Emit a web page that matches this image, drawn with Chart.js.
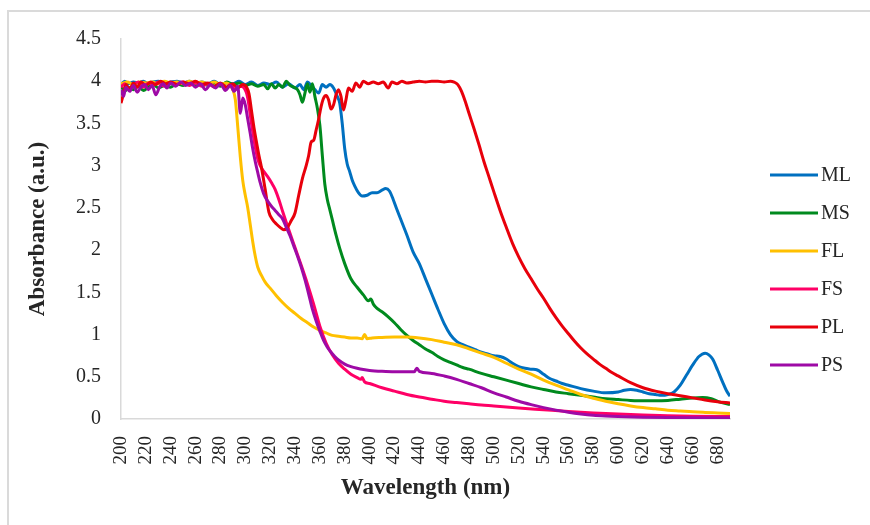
<!DOCTYPE html>
<html>
<head>
<meta charset="utf-8">
<script src="https://cdn.jsdelivr.net/npm/chart.js@4.4.1/dist/chart.umd.min.js"></script>
<style>
  html, body { margin: 0; padding: 0; background: #ffffff; }
  #wrap { position: absolute; left: 0; top: 0; width: 870px; height: 525px; }
</style>
</head>
<body>
<div id="wrap"><canvas id="absChart" width="870" height="525"></canvas></div>
<script>
// series names, legend order
const seriesNames = ['ML', 'MS', 'FL', 'FS', 'PL', 'PS'];
const seriesColors = ['#0070C0', '#008A1E', '#FFC000', '#FF0066', '#E8000B', '#9E0AA6'];

// ML (blue)
const mlNm = [200,203,206,210,214,218,222,226,230,235,240,245,250,255,260,265,270,275,280,285,290,295,300,305,310,315,320,325,330,335,340,344,347,350,353,356,359,362,365,368,371,374,376,378,380,382,384,386,388,391,394,398,402,406,410,413,416,419,422,426,430,435,440,445,450,455,460,465,470,475,480,485,490,495,500,505,510,515,520,525,530,535,540,545,550,555,560,570,580,590,600,605,610,615,620,625,630,635,640,645,650,655,660,665,670,673,676,680,684,687,690];
const mlAbs = [3.96,4.0,3.97,3.99,3.98,4.0,3.97,3.99,4.0,3.98,3.99,4.0,3.98,4.0,3.97,3.99,3.97,4.0,3.96,3.98,3.97,4.0,3.96,3.99,3.95,3.98,3.96,3.99,3.93,3.97,3.92,3.96,3.9,3.99,3.95,3.9,3.86,3.96,3.93,3.96,3.92,3.82,3.74,3.5,3.2,3.02,2.93,2.83,2.76,2.68,2.64,2.65,2.68,2.68,2.71,2.73,2.7,2.6,2.48,2.33,2.18,1.98,1.84,1.66,1.48,1.3,1.13,1.0,0.92,0.88,0.85,0.82,0.79,0.77,0.75,0.74,0.71,0.66,0.62,0.6,0.59,0.58,0.53,0.48,0.45,0.42,0.4,0.36,0.33,0.31,0.32,0.34,0.35,0.34,0.32,0.3,0.29,0.28,0.29,0.32,0.4,0.52,0.64,0.74,0.78,0.76,0.71,0.58,0.44,0.34,0.27];

// MS (green)
const msNm = [200,203,206,210,214,218,222,226,230,235,240,245,250,255,260,265,270,275,280,285,290,295,300,305,310,315,318,321,324,327,330,333,336,339,342,344,346,348,350,352,354,356,358,360,362,364,366,368,370,373,376,380,385,390,395,399,401,403,406,410,415,420,425,430,435,440,445,450,455,460,465,470,475,480,490,500,510,520,530,540,550,560,570,580,590,600,610,620,630,640,650,660,668,675,682,690];
const msAbs = [3.95,3.88,3.93,3.9,3.94,3.89,3.93,3.96,3.92,3.95,3.93,3.97,3.95,3.98,3.96,3.98,3.95,3.98,3.94,3.99,3.96,3.98,3.95,3.97,3.94,3.96,3.91,3.97,3.92,3.96,3.93,4.0,3.95,3.93,3.9,3.84,3.75,3.86,3.97,3.87,3.97,3.82,3.68,3.48,3.12,2.78,2.6,2.48,2.36,2.18,2.02,1.84,1.66,1.56,1.47,1.4,1.42,1.36,1.31,1.27,1.21,1.14,1.06,0.99,0.93,0.88,0.83,0.79,0.74,0.7,0.67,0.64,0.61,0.59,0.54,0.5,0.46,0.42,0.38,0.35,0.32,0.3,0.28,0.26,0.24,0.23,0.22,0.215,0.215,0.22,0.235,0.25,0.255,0.24,0.2,0.17];

// FL (yellow)
const flNm = [200,205,210,215,220,225,230,235,240,245,250,255,260,265,270,275,280,285,288,290,292,294,296,298,300,302,304,306,308,310,313,316,320,325,330,335,340,345,350,355,360,365,370,375,380,385,390,394,396,398,402,410,420,430,440,450,460,470,480,490,500,510,520,530,540,550,560,570,580,590,600,610,620,630,640,650,660,670,680,690];
const flAbs = [3.97,3.99,3.96,3.99,3.98,3.99,3.97,4.0,3.98,3.99,3.97,4.0,3.98,3.99,3.97,3.99,3.96,3.98,3.95,3.9,3.78,3.45,3.1,2.82,2.65,2.5,2.3,2.1,1.93,1.8,1.7,1.62,1.55,1.46,1.38,1.31,1.25,1.19,1.14,1.09,1.05,1.02,0.99,0.98,0.97,0.96,0.96,0.95,1.0,0.95,0.96,0.965,0.97,0.97,0.96,0.94,0.91,0.88,0.83,0.78,0.73,0.66,0.59,0.53,0.46,0.4,0.345,0.29,0.245,0.21,0.18,0.155,0.135,0.12,0.105,0.095,0.085,0.078,0.072,0.066];

// FS (pink)
const fsNm = [200,203,206,210,214,218,222,226,230,235,240,245,250,255,260,265,270,275,280,284,288,292,296,299,302,304,306,308,310,312,315,318,321,324,327,330,335,340,345,350,355,360,365,370,375,380,385,390,393,394,396,400,410,420,430,440,450,460,470,480,490,500,520,540,560,580,600,620,640,660,690];
const fsAbs = [3.93,3.97,3.9,3.96,3.99,3.93,3.98,3.95,3.99,3.94,3.98,3.96,3.99,3.95,3.98,3.94,3.97,3.93,3.96,3.92,3.96,3.9,3.94,3.92,3.8,3.6,3.4,3.22,3.08,3.0,2.93,2.87,2.8,2.72,2.6,2.46,2.24,2.03,1.82,1.6,1.36,1.1,0.9,0.76,0.66,0.59,0.53,0.49,0.47,0.49,0.44,0.42,0.37,0.33,0.29,0.26,0.235,0.21,0.195,0.18,0.165,0.155,0.13,0.11,0.09,0.072,0.058,0.047,0.038,0.033,0.03];

// PL (red)
const plNm = [200,202,204,207,210,213,216,220,224,228,232,236,240,245,250,255,260,265,270,275,280,285,290,294,298,301,303,305,307,309,311,313,316,319,322,325,328,331,334,337,340,343,346,349,351,353,355,357,359,361,363,365,367,369,371,373,375,377,379,381,383,386,389,392,395,399,403,407,411,415,418,422,426,430,435,440,445,450,455,460,465,468,471,474,477,480,484,488,492,496,500,505,510,515,520,525,530,535,540,545,550,555,560,565,570,575,580,585,590,595,600,610,620,630,640,650,660,670,680,690];
const plAbs = [3.74,3.85,3.96,3.9,3.98,3.93,3.99,3.95,3.99,3.96,4.0,3.97,3.99,3.96,3.99,3.97,4.0,3.96,3.98,3.94,3.98,3.93,3.97,3.92,3.96,3.93,3.85,3.65,3.45,3.28,3.12,2.98,2.72,2.45,2.36,2.31,2.27,2.24,2.27,2.35,2.44,2.65,2.85,3.0,3.12,3.28,3.3,3.42,3.55,3.7,3.8,3.83,3.78,3.67,3.72,3.84,3.9,3.82,3.66,3.78,3.92,3.88,3.98,3.93,4.0,3.97,3.99,3.97,3.99,3.92,3.99,3.97,4.0,3.98,3.99,4.0,3.99,4.0,4.0,3.99,4.0,3.99,3.96,3.88,3.76,3.62,3.44,3.25,3.05,2.87,2.69,2.47,2.27,2.08,1.92,1.78,1.66,1.54,1.43,1.31,1.2,1.1,1.01,0.92,0.84,0.77,0.71,0.65,0.6,0.55,0.51,0.43,0.37,0.33,0.3,0.275,0.25,0.225,0.205,0.19];

// PS (purple)
const psNm = [200,202,204,207,210,213,216,219,222,225,228,231,234,237,240,244,248,252,256,260,264,268,272,276,280,284,288,291,294,296,298,300,302,304,306,308,310,312,315,318,321,324,327,330,333,336,339,342,345,348,351,354,357,360,363,366,369,372,375,380,385,390,395,400,410,420,430,436,438,440,450,460,470,480,490,500,510,520,530,540,550,560,570,580,590,600,620,640,660,690];
const psAbs = [3.9,3.82,3.93,3.88,3.95,3.87,3.93,3.96,3.9,3.95,3.84,3.93,3.97,3.92,3.98,3.94,3.99,3.95,3.98,3.93,3.97,3.9,3.96,3.92,3.97,3.89,3.95,3.88,3.94,3.62,3.8,3.72,3.55,3.38,3.2,3.05,2.92,2.8,2.66,2.58,2.52,2.47,2.42,2.37,2.27,2.17,2.05,1.93,1.8,1.65,1.48,1.3,1.16,1.04,0.93,0.85,0.79,0.74,0.7,0.65,0.62,0.6,0.585,0.575,0.565,0.56,0.56,0.56,0.6,0.565,0.54,0.51,0.47,0.42,0.37,0.31,0.26,0.21,0.17,0.135,0.105,0.08,0.06,0.045,0.036,0.03,0.022,0.018,0.016,0.015];

const nmLists = [mlNm, msNm, flNm, fsNm, plNm, psNm];
const absLists = [mlAbs, msAbs, flAbs, fsAbs, plAbs, psAbs];

const serif = "'Liberation Serif', 'Times New Roman', serif";
const textColor = '#262626';
const axisGray = '#d9d9d9';

// marco gris y leyenda a la derecha
const frameAndLegend = {
  id: 'frameAndLegend',
  beforeDraw(chart) {
    const ctx = chart.ctx;
    ctx.save();
    ctx.strokeStyle = '#dadada';
    ctx.lineWidth = 2;
    ctx.strokeRect(8, 11, 900, 600);
    ctx.restore();
  },
  afterDraw(chart) {
    const ctx = chart.ctx;
    ctx.save();
    ctx.font = '20px ' + serif;
    ctx.textBaseline = 'middle';
    chart.data.datasets.forEach((ds, i) => {
      const y = 175 + i * 38;
      ctx.strokeStyle = ds.borderColor;
      ctx.lineWidth = 3;
      ctx.beginPath();
      ctx.moveTo(770, y);
      ctx.lineTo(818, y);
      ctx.stroke();
      ctx.fillStyle = textColor;
      ctx.fillText(ds.label, 821, y + 1);
    });
    ctx.restore();
  }
};

(() => {
  const graph = document.getElementById('absChart');
  const datasets = seriesNames.map((name, i) => ({
    label: name,
    data: nmLists[i].map((w, k) => ({ x: w, y: absLists[i][k] })),
    borderColor: seriesColors[i],
    backgroundColor: seriesColors[i],
    borderWidth: 3,
    pointRadius: 0,
    cubicInterpolationMode: 'monotone',
    order: seriesNames.length - i
  }));

  window.myChart = new Chart(graph, {
    type: 'line',
    data: { datasets: datasets },
    options: {
      responsive: false,
      animation: false,
      layout: { padding: { left: 24, top: 39, right: 140, bottom: 23 } },
      plugins: {
        legend: { display: false },
        tooltip: { enabled: false }
      },
      scales: {
        x: {
          type: 'linear',
          min: 200,
          max: 690,
          afterFit: (scale) => { scale.height = 83; },
          grid: { display: false },
          border: { display: true, color: axisGray, width: 1.5 },
          ticks: {
            stepSize: 20,
            includeBounds: false,
            autoSkip: false,
            minRotation: 90,
            maxRotation: 90,
            padding: 9,
            color: textColor,
            font: { family: serif, size: 19 }
          },
          title: {
            display: true,
            text: 'Wavelength (nm)',
            color: textColor,
            padding: 0,
            font: { family: serif, size: 23, weight: 'bold' }
          }
        },
        y: {
          min: 0,
          max: 4.5,
          afterFit: (scale) => { scale.width = 97; },
          grid: { display: false },
          border: { display: true, color: axisGray, width: 1.5 },
          ticks: {
            stepSize: 0.5,
            padding: 12,
            color: textColor,
            font: { family: serif, size: 20 },
            callback: (value) => String(value)
          },
          title: {
            display: true,
            text: 'Absorbance (a.u.)',
            color: textColor,
            padding: 0,
            font: { family: serif, size: 23, weight: 'bold' }
          }
        }
      }
    },
    plugins: [frameAndLegend]
  });
})();
</script>
</body>
</html>
